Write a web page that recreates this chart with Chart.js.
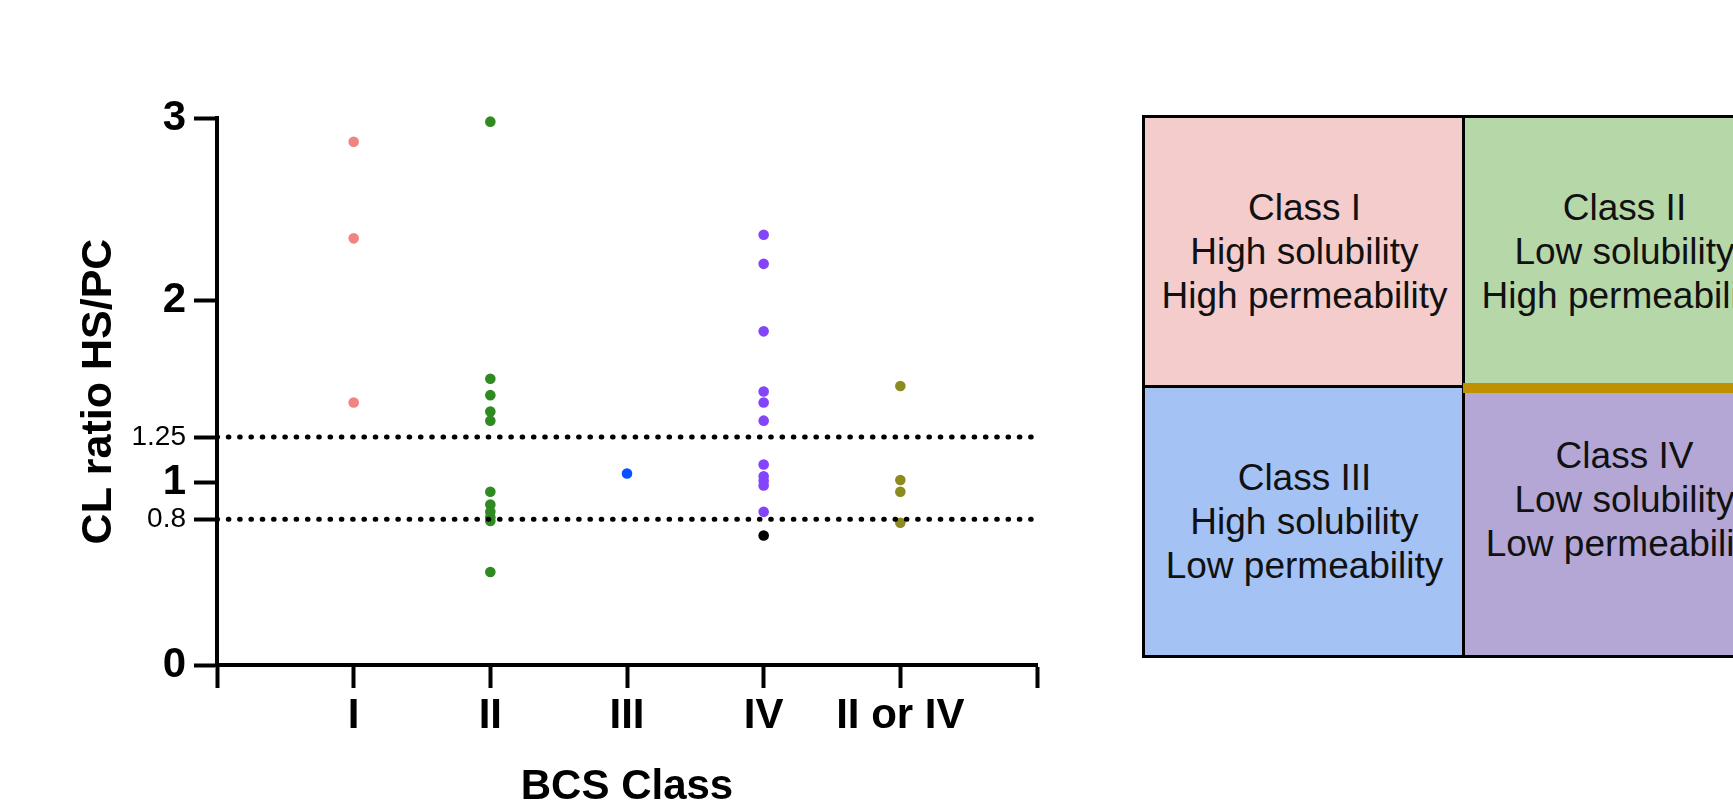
<!DOCTYPE html>
<html>
<head>
<meta charset="utf-8">
<script src="https://cdn.jsdelivr.net/npm/chart.js@4.4.1/dist/chart.umd.min.js"></script>
<style>
    body {
        margin: 0;
        width: 1733px;
        height: 803px;
        overflow: hidden;
        background: #fff;
        position: relative;
        font-family: Arial, "Liberation Sans", Helvetica, sans-serif;
    }
    .chart-wrap {
        position: absolute;
        left: 0;
        top: 0;
        width: 1100px;
        height: 820px;
    }
    .cell {
        position: absolute;
        box-sizing: border-box;
        border: 3px solid #000;
        display: flex;
        align-items: center;
        justify-content: center;
        text-align: center;
        font-size: 37px;
        line-height: 44px;
        color: #111;
        white-space: nowrap;
    }
    .c1 { left: 1142px; top: 115px; width: 325px; height: 274px; background: #f4cccc; }
    .c2 { left: 1462px; top: 115px; width: 325px; height: 274px; background: #b6d7a8; }
    .c3 { left: 1142px; top: 385px; width: 325px; height: 273px; background: #a4c2f4; }
    .c4 { left: 1462px; top: 385px; width: 325px; height: 273px; background: #b4a7d6; padding-bottom: 44px; }
    .gold {
        position: absolute;
        left: 1463px;
        top: 383px;
        width: 300px;
        height: 10px;
        background: #bf9000;
    }
</style>
</head>
<body>
<div class="chart-wrap"><canvas id="bcsChart" width="1100" height="820"></canvas></div>

<div class="cell c1">Class I<br>High solubility<br>High permeability</div>
<div class="cell c2">Class II<br>Low solubility<br>High permeability</div>
<div class="cell c3">Class III<br>High solubility<br>Low permeability</div>
<div class="cell c4">Class IV<br>Low solubility<br>Low permeability</div>
<div class="gold"></div>

<script>
// Categories on the x axis (positions 1..5)
const categories = ['I', 'II', 'III', 'IV', 'II or IV'];

// CL ratio HS/PC values per BCS class
const classI = [2.87, 2.34, 1.44];
const classII = [2.98, 1.57, 1.48, 1.39, 1.34, 0.95, 0.88, 0.84, 0.81, 0.79, 0.51];
const classIII = [1.05];
const classIV = [2.36, 2.20, 1.83, 1.50, 1.44, 1.34, 1.10, 1.035, 1.01, 0.985, 0.84];
const classIVblack = [0.71];
const classIIorIV = [1.53, 1.015, 0.95, 0.78];

// Y axis tick labels and dotted reference levels
const yTicks = [0, 0.8, 1, 1.25, 2, 3];
const minorTicks = [0.8, 1.25];
const refLevels = [1.25, 0.8];

const fontFamily = 'Arial, "Liberation Sans", Helvetica, sans-serif';
const bigFont = { family: fontFamily, size: 42, weight: 'bold' };
const smallFont = { family: fontFamily, size: 28, weight: 'normal' };

// turn a list of y values into points at category position
function toPoints(values, catIndex) {
    return values.map(v => ({ x: catIndex + 1, y: v }));
}

function pointSet(values, catIndex, color) {
    return {
        type: 'scatter',
        data: toPoints(values, catIndex),
        backgroundColor: color,
        borderColor: color,
        borderWidth: 0,
        pointRadius: 5.3,
        clip: false,
        order: 2
    };
}

const refSets = refLevels.map(level => ({
    type: 'line',
    data: [{ x: 0, y: level }, { x: 6, y: level }],
    borderColor: '#000',
    borderWidth: 5,
    borderDash: [0.6, 10.7],
    borderCapStyle: 'round',
    pointRadius: 0,
    fill: false,
    order: 1
}));

const datasets = [
    pointSet(classI, 0, '#f08482'),
    pointSet(classII, 1, '#2f8a21'),
    pointSet(classIII, 2, '#0a50ff'),
    pointSet(classIV, 3, '#8444fb'),
    pointSet(classIVblack, 3, '#000000'),
    pointSet(classIIorIV, 4, '#8e8a22'),
    ...refSets
];

const config = {
    type: 'scatter',
    data: { datasets: datasets },
    options: {
        responsive: false,
        animation: false,
        devicePixelRatio: 1,
        layout: {
            padding: { left: 0, top: 118, right: 63, bottom: 0 }
        },
        plugins: {
            legend: { display: false },
            tooltip: { enabled: false }
        },
        scales: {
            x: {
                type: 'linear',
                min: 0,
                max: 6,
                afterBuildTicks: scale => {
                    scale.ticks = [0, 1, 2, 3, 4, 5, 6].map(v => ({ value: v }));
                },
                afterFit: scale => { scale.height = 155; },
                border: { display: true, color: '#000', width: 4 },
                grid: {
                    drawOnChartArea: false,
                    drawTicks: true,
                    tickLength: 23,
                    tickWidth: 4,
                    color: '#000'
                },
                ticks: {
                    autoSkip: false,
                    maxRotation: 0,
                    padding: 3,
                    color: '#000',
                    font: bigFont,
                    callback: value => categories[value - 1] || ''
                },
                title: {
                    display: true,
                    text: 'BCS Class',
                    color: '#000',
                    font: bigFont,
                    padding: { top: 0, bottom: 7 }
                }
            },
            y: {
                type: 'linear',
                min: 0,
                max: 3,
                afterBuildTicks: scale => {
                    scale.ticks = yTicks.map(v => ({ value: v }));
                },
                afterFit: scale => { scale.width = 217; },
                border: { display: true, color: '#000', width: 4 },
                grid: {
                    drawOnChartArea: false,
                    drawTicks: true,
                    tickLength: 23,
                    tickWidth: 4,
                    color: '#000'
                },
                ticks: {
                    autoSkip: false,
                    padding: 8,
                    color: '#000',
                    font: ctx => (ctx.tick && minorTicks.includes(ctx.tick.value)) ? smallFont : bigFont,
                    callback: value => String(value)
                },
                title: {
                    display: true,
                    text: 'CL ratio HS/PC',
                    color: '#000',
                    font: { family: fontFamily, size: 43, weight: 'bold' },
                    padding: { top: 73, bottom: 0 }
                }
            }
        }
    }
};

new Chart(document.getElementById('bcsChart'), config);
</script>
</body>
</html>
